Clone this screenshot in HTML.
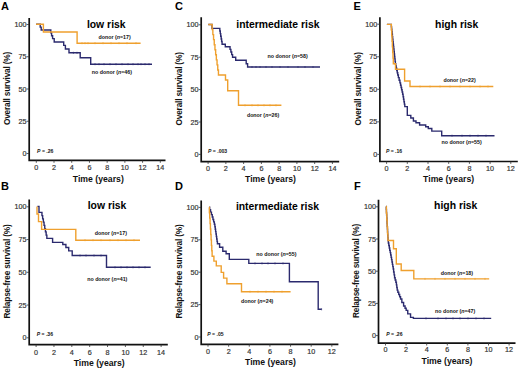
<!DOCTYPE html>
<html><head><meta charset="utf-8"><style>
html,body{margin:0;padding:0;background:#fff;width:520px;height:370px;overflow:hidden;}
svg{display:block;font-family:"Liberation Sans",sans-serif;}
</style></head><body>
<svg width="520" height="370" viewBox="0 0 520 370" font-family="Liberation Sans, sans-serif">
<rect width="520" height="370" fill="#fff"/>
<path d="M29.2 18V160.4H165.5" fill="none" stroke="#111" stroke-width="1.7"/>
<line x1="26.6" y1="153.5" x2="29.2" y2="153.5" stroke="#333" stroke-width="0.8"/>
<text x="26.6" y="156" text-anchor="end" font-size="7.2" fill="#333" stroke="#333" stroke-width="0.18">0</text>
<line x1="26.6" y1="121.25" x2="29.2" y2="121.25" stroke="#333" stroke-width="0.8"/>
<text x="26.6" y="123.75" text-anchor="end" font-size="7.2" fill="#333" stroke="#333" stroke-width="0.18">25</text>
<line x1="26.6" y1="89" x2="29.2" y2="89" stroke="#333" stroke-width="0.8"/>
<text x="26.6" y="91.5" text-anchor="end" font-size="7.2" fill="#333" stroke="#333" stroke-width="0.18">50</text>
<line x1="26.6" y1="56.75" x2="29.2" y2="56.75" stroke="#333" stroke-width="0.8"/>
<text x="26.6" y="59.25" text-anchor="end" font-size="7.2" fill="#333" stroke="#333" stroke-width="0.18">75</text>
<line x1="26.6" y1="24.5" x2="29.2" y2="24.5" stroke="#333" stroke-width="0.8"/>
<text x="26.6" y="27" text-anchor="end" font-size="7.2" fill="#333" stroke="#333" stroke-width="0.18">100</text>
<line x1="36.3" y1="160.4" x2="36.3" y2="162.8" stroke="#333" stroke-width="0.8"/>
<text x="36.3" y="170.3" text-anchor="middle" font-size="7.2" fill="#333" stroke="#333" stroke-width="0.18">0</text>
<line x1="54.01" y1="160.4" x2="54.01" y2="162.8" stroke="#333" stroke-width="0.8"/>
<text x="54.01" y="170.3" text-anchor="middle" font-size="7.2" fill="#333" stroke="#333" stroke-width="0.18">2</text>
<line x1="71.73" y1="160.4" x2="71.73" y2="162.8" stroke="#333" stroke-width="0.8"/>
<text x="71.73" y="170.3" text-anchor="middle" font-size="7.2" fill="#333" stroke="#333" stroke-width="0.18">4</text>
<line x1="89.44" y1="160.4" x2="89.44" y2="162.8" stroke="#333" stroke-width="0.8"/>
<text x="89.44" y="170.3" text-anchor="middle" font-size="7.2" fill="#333" stroke="#333" stroke-width="0.18">6</text>
<line x1="107.16" y1="160.4" x2="107.16" y2="162.8" stroke="#333" stroke-width="0.8"/>
<text x="107.16" y="170.3" text-anchor="middle" font-size="7.2" fill="#333" stroke="#333" stroke-width="0.18">8</text>
<line x1="124.87" y1="160.4" x2="124.87" y2="162.8" stroke="#333" stroke-width="0.8"/>
<text x="124.87" y="170.3" text-anchor="middle" font-size="7.2" fill="#333" stroke="#333" stroke-width="0.18">10</text>
<line x1="142.58" y1="160.4" x2="142.58" y2="162.8" stroke="#333" stroke-width="0.8"/>
<text x="142.58" y="170.3" text-anchor="middle" font-size="7.2" fill="#333" stroke="#333" stroke-width="0.18">12</text>
<line x1="160.3" y1="160.4" x2="160.3" y2="162.8" stroke="#333" stroke-width="0.8"/>
<text x="160.3" y="170.3" text-anchor="middle" font-size="7.2" fill="#333" stroke="#333" stroke-width="0.18">14</text>
<text x="1" y="9.9" font-size="11" font-weight="bold" fill="#000">A</text>
<text x="86.9" y="27.8" font-size="10.4" font-weight="bold" fill="#000">low risk</text>
<text x="98.3" y="181.8" text-anchor="middle" font-size="8.7" font-weight="bold" fill="#111">Time (years)</text>
<text transform="translate(9.6 88.5) rotate(-90)" text-anchor="middle" font-size="8.3" letter-spacing="-0.19" font-weight="bold" fill="#111">Overall survival (%)</text>
<text x="37.1" y="153" font-size="5.1" font-weight="bold" fill="#111"><tspan font-style="italic">P</tspan> = .26</text>
<path d="M36.1 24.3H40.2V27.1H41.2V30H50.8V32.9H51.6V35.7H52.6V38.6H54.2V42H63.7V45.4H65.4V49H69V52.8H80.2V57.8H90.7V64.2H152" fill="none" stroke="#2B2A6E" stroke-width="1.4" stroke-linejoin="miter"/>
<line x1="73.4" y1="51.8" x2="73.4" y2="53.8" stroke="#2B2A6E" stroke-width="0.7"/>
<line x1="77" y1="51.8" x2="77" y2="53.8" stroke="#2B2A6E" stroke-width="0.7"/>
<line x1="95" y1="63.2" x2="95" y2="65.2" stroke="#2B2A6E" stroke-width="0.7"/>
<line x1="99" y1="63.2" x2="99" y2="65.2" stroke="#2B2A6E" stroke-width="0.7"/>
<line x1="104" y1="63.2" x2="104" y2="65.2" stroke="#2B2A6E" stroke-width="0.7"/>
<line x1="110" y1="63.2" x2="110" y2="65.2" stroke="#2B2A6E" stroke-width="0.7"/>
<line x1="116" y1="63.2" x2="116" y2="65.2" stroke="#2B2A6E" stroke-width="0.7"/>
<line x1="122" y1="63.2" x2="122" y2="65.2" stroke="#2B2A6E" stroke-width="0.7"/>
<line x1="128" y1="63.2" x2="128" y2="65.2" stroke="#2B2A6E" stroke-width="0.7"/>
<line x1="133" y1="63.2" x2="133" y2="65.2" stroke="#2B2A6E" stroke-width="0.7"/>
<line x1="138" y1="63.2" x2="138" y2="65.2" stroke="#2B2A6E" stroke-width="0.7"/>
<line x1="141" y1="63.2" x2="141" y2="65.2" stroke="#2B2A6E" stroke-width="0.7"/>
<line x1="145" y1="63.2" x2="145" y2="65.2" stroke="#2B2A6E" stroke-width="0.7"/>
<line x1="149" y1="63.2" x2="149" y2="65.2" stroke="#2B2A6E" stroke-width="0.7"/>
<path d="M36.1 24.3H43.4V32H77.1V43.2H140.6" fill="none" stroke="#EFA02E" stroke-width="1.4" stroke-linejoin="miter"/>
<line x1="82" y1="42.2" x2="82" y2="44.2" stroke="#EFA02E" stroke-width="0.7"/>
<line x1="85" y1="42.2" x2="85" y2="44.2" stroke="#EFA02E" stroke-width="0.7"/>
<line x1="88" y1="42.2" x2="88" y2="44.2" stroke="#EFA02E" stroke-width="0.7"/>
<line x1="95" y1="42.2" x2="95" y2="44.2" stroke="#EFA02E" stroke-width="0.7"/>
<line x1="103" y1="42.2" x2="103" y2="44.2" stroke="#EFA02E" stroke-width="0.7"/>
<line x1="111" y1="42.2" x2="111" y2="44.2" stroke="#EFA02E" stroke-width="0.7"/>
<line x1="119" y1="42.2" x2="119" y2="44.2" stroke="#EFA02E" stroke-width="0.7"/>
<line x1="127" y1="42.2" x2="127" y2="44.2" stroke="#EFA02E" stroke-width="0.7"/>
<line x1="136" y1="42.2" x2="136" y2="44.2" stroke="#EFA02E" stroke-width="0.7"/>
<text x="98.5" y="38.8" font-size="5.3" font-weight="bold" fill="#111">donor (<tspan font-style="italic">n</tspan>=17)</text>
<text x="91.8" y="74.4" font-size="5.3" font-weight="bold" fill="#111">no donor (<tspan font-style="italic">n</tspan>=46)</text>
<path d="M201.2 17.3V161.6H339.2" fill="none" stroke="#111" stroke-width="1.7"/>
<line x1="198.6" y1="154.4" x2="201.2" y2="154.4" stroke="#333" stroke-width="0.8"/>
<text x="198.6" y="156.9" text-anchor="end" font-size="7.2" fill="#333" stroke="#333" stroke-width="0.18">0</text>
<line x1="198.6" y1="122" x2="201.2" y2="122" stroke="#333" stroke-width="0.8"/>
<text x="198.6" y="124.5" text-anchor="end" font-size="7.2" fill="#333" stroke="#333" stroke-width="0.18">25</text>
<line x1="198.6" y1="89.6" x2="201.2" y2="89.6" stroke="#333" stroke-width="0.8"/>
<text x="198.6" y="92.1" text-anchor="end" font-size="7.2" fill="#333" stroke="#333" stroke-width="0.18">50</text>
<line x1="198.6" y1="57.2" x2="201.2" y2="57.2" stroke="#333" stroke-width="0.8"/>
<text x="198.6" y="59.7" text-anchor="end" font-size="7.2" fill="#333" stroke="#333" stroke-width="0.18">75</text>
<line x1="198.6" y1="24.8" x2="201.2" y2="24.8" stroke="#333" stroke-width="0.8"/>
<text x="198.6" y="27.3" text-anchor="end" font-size="7.2" fill="#333" stroke="#333" stroke-width="0.18">100</text>
<line x1="208.1" y1="161.6" x2="208.1" y2="164" stroke="#333" stroke-width="0.8"/>
<text x="208.1" y="170.6" text-anchor="middle" font-size="7.2" fill="#333" stroke="#333" stroke-width="0.18">0</text>
<line x1="225.86" y1="161.6" x2="225.86" y2="164" stroke="#333" stroke-width="0.8"/>
<text x="225.86" y="170.6" text-anchor="middle" font-size="7.2" fill="#333" stroke="#333" stroke-width="0.18">2</text>
<line x1="243.62" y1="161.6" x2="243.62" y2="164" stroke="#333" stroke-width="0.8"/>
<text x="243.62" y="170.6" text-anchor="middle" font-size="7.2" fill="#333" stroke="#333" stroke-width="0.18">4</text>
<line x1="261.38" y1="161.6" x2="261.38" y2="164" stroke="#333" stroke-width="0.8"/>
<text x="261.38" y="170.6" text-anchor="middle" font-size="7.2" fill="#333" stroke="#333" stroke-width="0.18">6</text>
<line x1="279.14" y1="161.6" x2="279.14" y2="164" stroke="#333" stroke-width="0.8"/>
<text x="279.14" y="170.6" text-anchor="middle" font-size="7.2" fill="#333" stroke="#333" stroke-width="0.18">8</text>
<line x1="296.9" y1="161.6" x2="296.9" y2="164" stroke="#333" stroke-width="0.8"/>
<text x="296.9" y="170.6" text-anchor="middle" font-size="7.2" fill="#333" stroke="#333" stroke-width="0.18">10</text>
<line x1="314.66" y1="161.6" x2="314.66" y2="164" stroke="#333" stroke-width="0.8"/>
<text x="314.66" y="170.6" text-anchor="middle" font-size="7.2" fill="#333" stroke="#333" stroke-width="0.18">12</text>
<line x1="332.42" y1="161.6" x2="332.42" y2="164" stroke="#333" stroke-width="0.8"/>
<text x="332.42" y="170.6" text-anchor="middle" font-size="7.2" fill="#333" stroke="#333" stroke-width="0.18">14</text>
<text x="175" y="9.8" font-size="11" font-weight="bold" fill="#000">C</text>
<text x="236.3" y="27.8" font-size="10.4" font-weight="bold" fill="#000">intermediate risk</text>
<text x="270.5" y="182.3" text-anchor="middle" font-size="8.7" font-weight="bold" fill="#111">Time (years)</text>
<text transform="translate(181.9 88.9) rotate(-90)" text-anchor="middle" font-size="8.3" letter-spacing="-0.19" font-weight="bold" fill="#111">Overall survival (%)</text>
<text x="208" y="152.6" font-size="5.1" font-weight="bold" fill="#111"><tspan font-style="italic">P</tspan> = .003</text>
<path d="M208.3 24.5H212V28.4H219.6H219.82V31.03H220.28V33.67H220.72V36.3H221.18V38.93H221.62V41.57H222.08V44.2H222.3H225.3V46.8H229.6H230.03V49.4H230.88V52H231.72V54.6H232.57V57.2H233H235.7V60.2H246.2V63.8H247.6V67H320" fill="none" stroke="#2B2A6E" stroke-width="1.4" stroke-linejoin="miter"/>
<line x1="252" y1="66" x2="252" y2="68" stroke="#2B2A6E" stroke-width="0.7"/>
<line x1="256" y1="66" x2="256" y2="68" stroke="#2B2A6E" stroke-width="0.7"/>
<line x1="260" y1="66" x2="260" y2="68" stroke="#2B2A6E" stroke-width="0.7"/>
<line x1="266" y1="66" x2="266" y2="68" stroke="#2B2A6E" stroke-width="0.7"/>
<line x1="272" y1="66" x2="272" y2="68" stroke="#2B2A6E" stroke-width="0.7"/>
<line x1="280" y1="66" x2="280" y2="68" stroke="#2B2A6E" stroke-width="0.7"/>
<line x1="288" y1="66" x2="288" y2="68" stroke="#2B2A6E" stroke-width="0.7"/>
<line x1="298" y1="66" x2="298" y2="68" stroke="#2B2A6E" stroke-width="0.7"/>
<line x1="305" y1="66" x2="305" y2="68" stroke="#2B2A6E" stroke-width="0.7"/>
<line x1="313" y1="66" x2="313" y2="68" stroke="#2B2A6E" stroke-width="0.7"/>
<path d="M208.3 24.5H211.8H212.15V29.55H212.85V34.6H213.55V39.65H214.25V44.7H214.95V49.75H215.65V54.8H216.35V59.85H217.05V64.9H217.75V69.95H218.45V75H218.8H225.5V80H227.7V90.7H238.5V105.3H281.4" fill="none" stroke="#EFA02E" stroke-width="1.4" stroke-linejoin="miter"/>
<line x1="245" y1="104.3" x2="245" y2="106.3" stroke="#EFA02E" stroke-width="0.7"/>
<line x1="252" y1="104.3" x2="252" y2="106.3" stroke="#EFA02E" stroke-width="0.7"/>
<line x1="258" y1="104.3" x2="258" y2="106.3" stroke="#EFA02E" stroke-width="0.7"/>
<line x1="264" y1="104.3" x2="264" y2="106.3" stroke="#EFA02E" stroke-width="0.7"/>
<line x1="270" y1="104.3" x2="270" y2="106.3" stroke="#EFA02E" stroke-width="0.7"/>
<line x1="276" y1="104.3" x2="276" y2="106.3" stroke="#EFA02E" stroke-width="0.7"/>
<text x="267.6" y="58.1" font-size="5.3" font-weight="bold" fill="#111">no donor (<tspan font-style="italic">n</tspan>=58)</text>
<text x="246.9" y="117.2" font-size="5.3" font-weight="bold" fill="#111">donor (<tspan font-style="italic">n</tspan>=26)</text>
<path d="M379.9 17.3V161.5H517.8" fill="none" stroke="#111" stroke-width="1.7"/>
<line x1="377.3" y1="154.4" x2="379.9" y2="154.4" stroke="#333" stroke-width="0.8"/>
<text x="377.3" y="156.9" text-anchor="end" font-size="7.2" fill="#333" stroke="#333" stroke-width="0.18">0</text>
<line x1="377.3" y1="121.85" x2="379.9" y2="121.85" stroke="#333" stroke-width="0.8"/>
<text x="377.3" y="124.35" text-anchor="end" font-size="7.2" fill="#333" stroke="#333" stroke-width="0.18">25</text>
<line x1="377.3" y1="89.3" x2="379.9" y2="89.3" stroke="#333" stroke-width="0.8"/>
<text x="377.3" y="91.8" text-anchor="end" font-size="7.2" fill="#333" stroke="#333" stroke-width="0.18">50</text>
<line x1="377.3" y1="56.75" x2="379.9" y2="56.75" stroke="#333" stroke-width="0.8"/>
<text x="377.3" y="59.25" text-anchor="end" font-size="7.2" fill="#333" stroke="#333" stroke-width="0.18">75</text>
<line x1="377.3" y1="24.2" x2="379.9" y2="24.2" stroke="#333" stroke-width="0.8"/>
<text x="377.3" y="26.7" text-anchor="end" font-size="7.2" fill="#333" stroke="#333" stroke-width="0.18">100</text>
<line x1="386.6" y1="161.5" x2="386.6" y2="163.9" stroke="#333" stroke-width="0.8"/>
<text x="386.6" y="171.4" text-anchor="middle" font-size="7.2" fill="#333" stroke="#333" stroke-width="0.18">0</text>
<line x1="407.3" y1="161.5" x2="407.3" y2="163.9" stroke="#333" stroke-width="0.8"/>
<text x="407.3" y="171.4" text-anchor="middle" font-size="7.2" fill="#333" stroke="#333" stroke-width="0.18">2</text>
<line x1="428" y1="161.5" x2="428" y2="163.9" stroke="#333" stroke-width="0.8"/>
<text x="428" y="171.4" text-anchor="middle" font-size="7.2" fill="#333" stroke="#333" stroke-width="0.18">4</text>
<line x1="448.7" y1="161.5" x2="448.7" y2="163.9" stroke="#333" stroke-width="0.8"/>
<text x="448.7" y="171.4" text-anchor="middle" font-size="7.2" fill="#333" stroke="#333" stroke-width="0.18">6</text>
<line x1="469.4" y1="161.5" x2="469.4" y2="163.9" stroke="#333" stroke-width="0.8"/>
<text x="469.4" y="171.4" text-anchor="middle" font-size="7.2" fill="#333" stroke="#333" stroke-width="0.18">8</text>
<line x1="490.1" y1="161.5" x2="490.1" y2="163.9" stroke="#333" stroke-width="0.8"/>
<text x="490.1" y="171.4" text-anchor="middle" font-size="7.2" fill="#333" stroke="#333" stroke-width="0.18">10</text>
<line x1="510.8" y1="161.5" x2="510.8" y2="163.9" stroke="#333" stroke-width="0.8"/>
<text x="510.8" y="171.4" text-anchor="middle" font-size="7.2" fill="#333" stroke="#333" stroke-width="0.18">12</text>
<text x="353.4" y="9.7" font-size="11" font-weight="bold" fill="#000">E</text>
<text x="435.1" y="27.7" font-size="10.4" font-weight="bold" fill="#000">high risk</text>
<text x="448.6" y="182" text-anchor="middle" font-size="8.7" font-weight="bold" fill="#111">Time (years)</text>
<text transform="translate(360.7 88.9) rotate(-90)" text-anchor="middle" font-size="8.3" letter-spacing="-0.19" font-weight="bold" fill="#111">Overall survival (%)</text>
<text x="385.9" y="152.6" font-size="5.1" font-weight="bold" fill="#111"><tspan font-style="italic">P</tspan> = .16</text>
<path d="M386.9 24.4H391.2H391.33V26.86H391.6V29.32H391.87V31.79H392.14V34.25H392.41V36.71H392.68V39.17H392.95V41.64H393.22V44.1H393.48V46.56H393.75V49.02H394.02V51.49H394.29V53.95H394.56V56.41H394.83V58.88H395.1V61.34H395.37V63.8H395.5H395.75V66.04H396.25V68.28H396.75V70.52H397.25V72.76H397.75V75H398H398.38V77.63H399.15V80.27H399.92V82.9H400.3H400.56V85.18H401.08V87.46H401.6V89.74H402.12V92.02H402.64V94.3H402.9H403.11V96.76H403.53V99.22H403.95V101.68H404.37V104.14H404.79V106.6H405H407.3V115.4H410.8V118H413.4V121H416V122.7H419.6V125H425.7V126.8H428.3V128.5H431.8V131.1H441.7V135.7H494.5" fill="none" stroke="#2B2A6E" stroke-width="1.4" stroke-linejoin="miter"/>
<line x1="452" y1="134.7" x2="452" y2="136.7" stroke="#2B2A6E" stroke-width="0.7"/>
<line x1="462" y1="134.7" x2="462" y2="136.7" stroke="#2B2A6E" stroke-width="0.7"/>
<line x1="470" y1="134.7" x2="470" y2="136.7" stroke="#2B2A6E" stroke-width="0.7"/>
<line x1="478" y1="134.7" x2="478" y2="136.7" stroke="#2B2A6E" stroke-width="0.7"/>
<line x1="486" y1="134.7" x2="486" y2="136.7" stroke="#2B2A6E" stroke-width="0.7"/>
<path d="M386.9 24.4H391.2H391.36V30.03H391.69V35.66H392.02V41.29H392.35V46.91H392.68V52.54H393.01V58.17H393.34V63.8H393.5H395.5V69.2H404.6V81H410V86.5H493.3" fill="none" stroke="#EFA02E" stroke-width="1.4" stroke-linejoin="miter"/>
<line x1="420" y1="85.5" x2="420" y2="87.5" stroke="#EFA02E" stroke-width="0.7"/>
<line x1="430" y1="85.5" x2="430" y2="87.5" stroke="#EFA02E" stroke-width="0.7"/>
<line x1="440" y1="85.5" x2="440" y2="87.5" stroke="#EFA02E" stroke-width="0.7"/>
<line x1="450" y1="85.5" x2="450" y2="87.5" stroke="#EFA02E" stroke-width="0.7"/>
<line x1="460" y1="85.5" x2="460" y2="87.5" stroke="#EFA02E" stroke-width="0.7"/>
<line x1="470" y1="85.5" x2="470" y2="87.5" stroke="#EFA02E" stroke-width="0.7"/>
<line x1="480" y1="85.5" x2="480" y2="87.5" stroke="#EFA02E" stroke-width="0.7"/>
<line x1="488" y1="85.5" x2="488" y2="87.5" stroke="#EFA02E" stroke-width="0.7"/>
<text x="443.4" y="81.7" font-size="5.3" font-weight="bold" fill="#111">donor (<tspan font-style="italic">n</tspan>=22)</text>
<text x="441.6" y="144.1" font-size="5.3" font-weight="bold" fill="#111">no donor (<tspan font-style="italic">n</tspan>=55)</text>
<path d="M29.2 199.4V344.6H167.8" fill="none" stroke="#111" stroke-width="1.7"/>
<line x1="26.6" y1="337.8" x2="29.2" y2="337.8" stroke="#333" stroke-width="0.8"/>
<text x="26.6" y="340.3" text-anchor="end" font-size="7.2" fill="#333" stroke="#333" stroke-width="0.18">0</text>
<line x1="26.6" y1="305.05" x2="29.2" y2="305.05" stroke="#333" stroke-width="0.8"/>
<text x="26.6" y="307.55" text-anchor="end" font-size="7.2" fill="#333" stroke="#333" stroke-width="0.18">25</text>
<line x1="26.6" y1="272.3" x2="29.2" y2="272.3" stroke="#333" stroke-width="0.8"/>
<text x="26.6" y="274.8" text-anchor="end" font-size="7.2" fill="#333" stroke="#333" stroke-width="0.18">50</text>
<line x1="26.6" y1="239.55" x2="29.2" y2="239.55" stroke="#333" stroke-width="0.8"/>
<text x="26.6" y="242.05" text-anchor="end" font-size="7.2" fill="#333" stroke="#333" stroke-width="0.18">75</text>
<line x1="26.6" y1="206.8" x2="29.2" y2="206.8" stroke="#333" stroke-width="0.8"/>
<text x="26.6" y="209.3" text-anchor="end" font-size="7.2" fill="#333" stroke="#333" stroke-width="0.18">100</text>
<line x1="36.1" y1="344.6" x2="36.1" y2="347" stroke="#333" stroke-width="0.8"/>
<text x="36.1" y="354.5" text-anchor="middle" font-size="7.2" fill="#333" stroke="#333" stroke-width="0.18">0</text>
<line x1="53.96" y1="344.6" x2="53.96" y2="347" stroke="#333" stroke-width="0.8"/>
<text x="53.96" y="354.5" text-anchor="middle" font-size="7.2" fill="#333" stroke="#333" stroke-width="0.18">2</text>
<line x1="71.82" y1="344.6" x2="71.82" y2="347" stroke="#333" stroke-width="0.8"/>
<text x="71.82" y="354.5" text-anchor="middle" font-size="7.2" fill="#333" stroke="#333" stroke-width="0.18">4</text>
<line x1="89.68" y1="344.6" x2="89.68" y2="347" stroke="#333" stroke-width="0.8"/>
<text x="89.68" y="354.5" text-anchor="middle" font-size="7.2" fill="#333" stroke="#333" stroke-width="0.18">6</text>
<line x1="107.54" y1="344.6" x2="107.54" y2="347" stroke="#333" stroke-width="0.8"/>
<text x="107.54" y="354.5" text-anchor="middle" font-size="7.2" fill="#333" stroke="#333" stroke-width="0.18">8</text>
<line x1="125.4" y1="344.6" x2="125.4" y2="347" stroke="#333" stroke-width="0.8"/>
<text x="125.4" y="354.5" text-anchor="middle" font-size="7.2" fill="#333" stroke="#333" stroke-width="0.18">10</text>
<line x1="143.26" y1="344.6" x2="143.26" y2="347" stroke="#333" stroke-width="0.8"/>
<text x="143.26" y="354.5" text-anchor="middle" font-size="7.2" fill="#333" stroke="#333" stroke-width="0.18">12</text>
<line x1="161.12" y1="344.6" x2="161.12" y2="347" stroke="#333" stroke-width="0.8"/>
<text x="161.12" y="354.5" text-anchor="middle" font-size="7.2" fill="#333" stroke="#333" stroke-width="0.18">14</text>
<text x="1" y="189.9" font-size="11" font-weight="bold" fill="#000">B</text>
<text x="87.7" y="209.3" font-size="10.4" font-weight="bold" fill="#000">low risk</text>
<text x="99.2" y="366.2" text-anchor="middle" font-size="8.7" font-weight="bold" fill="#111">Time (years)</text>
<text transform="translate(10.3 271.5) rotate(-90)" text-anchor="middle" font-size="8.3" letter-spacing="-0.19" font-weight="bold" fill="#111">Relapse-free survival (%)</text>
<text x="36.7" y="335.6" font-size="5.1" font-weight="bold" fill="#111"><tspan font-style="italic">P</tspan> = .36</text>
<path d="M37.4 206.4H39V212.4H41.6H41.95V215.65H42.65V218.9H43.35V222.15H44.05V225.4H44.75V228.65H45.45V231.9H46.15V235.15H46.85V238.4H47.2H52.6V242.4H62.8V244.5H65.9V247.5H68.7V250.9H72.2V255.5H106.5V267.3H150.7" fill="none" stroke="#2B2A6E" stroke-width="1.4" stroke-linejoin="miter"/>
<line x1="80" y1="254.5" x2="80" y2="256.5" stroke="#2B2A6E" stroke-width="0.7"/>
<line x1="86" y1="254.5" x2="86" y2="256.5" stroke="#2B2A6E" stroke-width="0.7"/>
<line x1="94" y1="254.5" x2="94" y2="256.5" stroke="#2B2A6E" stroke-width="0.7"/>
<line x1="101" y1="254.5" x2="101" y2="256.5" stroke="#2B2A6E" stroke-width="0.7"/>
<line x1="115" y1="266.3" x2="115" y2="268.3" stroke="#2B2A6E" stroke-width="0.7"/>
<line x1="121" y1="266.3" x2="121" y2="268.3" stroke="#2B2A6E" stroke-width="0.7"/>
<line x1="127" y1="266.3" x2="127" y2="268.3" stroke="#2B2A6E" stroke-width="0.7"/>
<line x1="133" y1="266.3" x2="133" y2="268.3" stroke="#2B2A6E" stroke-width="0.7"/>
<line x1="139" y1="266.3" x2="139" y2="268.3" stroke="#2B2A6E" stroke-width="0.7"/>
<line x1="145" y1="266.3" x2="145" y2="268.3" stroke="#2B2A6E" stroke-width="0.7"/>
<path d="M37 206.4V214H38.5V221.6H41.6V229.4H75.8V240.2H140" fill="none" stroke="#EFA02E" stroke-width="1.4" stroke-linejoin="miter"/>
<line x1="85" y1="239.2" x2="85" y2="241.2" stroke="#EFA02E" stroke-width="0.7"/>
<line x1="93" y1="239.2" x2="93" y2="241.2" stroke="#EFA02E" stroke-width="0.7"/>
<line x1="101" y1="239.2" x2="101" y2="241.2" stroke="#EFA02E" stroke-width="0.7"/>
<line x1="110" y1="239.2" x2="110" y2="241.2" stroke="#EFA02E" stroke-width="0.7"/>
<line x1="118" y1="239.2" x2="118" y2="241.2" stroke="#EFA02E" stroke-width="0.7"/>
<line x1="126" y1="239.2" x2="126" y2="241.2" stroke="#EFA02E" stroke-width="0.7"/>
<line x1="134" y1="239.2" x2="134" y2="241.2" stroke="#EFA02E" stroke-width="0.7"/>
<text x="94.7" y="235.1" font-size="5.3" font-weight="bold" fill="#111">donor (<tspan font-style="italic">n</tspan>=17)</text>
<text x="87.2" y="280.7" font-size="5.3" font-weight="bold" fill="#111">no donor (<tspan font-style="italic">n</tspan>=41)</text>
<path d="M201.2 200.4V344.3H338.4" fill="none" stroke="#111" stroke-width="1.7"/>
<line x1="198.6" y1="337" x2="201.2" y2="337" stroke="#333" stroke-width="0.8"/>
<text x="198.6" y="339.5" text-anchor="end" font-size="7.2" fill="#333" stroke="#333" stroke-width="0.18">0</text>
<line x1="198.6" y1="304.6" x2="201.2" y2="304.6" stroke="#333" stroke-width="0.8"/>
<text x="198.6" y="307.1" text-anchor="end" font-size="7.2" fill="#333" stroke="#333" stroke-width="0.18">25</text>
<line x1="198.6" y1="272.2" x2="201.2" y2="272.2" stroke="#333" stroke-width="0.8"/>
<text x="198.6" y="274.7" text-anchor="end" font-size="7.2" fill="#333" stroke="#333" stroke-width="0.18">50</text>
<line x1="198.6" y1="239.8" x2="201.2" y2="239.8" stroke="#333" stroke-width="0.8"/>
<text x="198.6" y="242.3" text-anchor="end" font-size="7.2" fill="#333" stroke="#333" stroke-width="0.18">75</text>
<line x1="198.6" y1="207.4" x2="201.2" y2="207.4" stroke="#333" stroke-width="0.8"/>
<text x="198.6" y="209.9" text-anchor="end" font-size="7.2" fill="#333" stroke="#333" stroke-width="0.18">100</text>
<line x1="208" y1="344.3" x2="208" y2="346.7" stroke="#333" stroke-width="0.8"/>
<text x="208" y="354.2" text-anchor="middle" font-size="7.2" fill="#333" stroke="#333" stroke-width="0.18">0</text>
<line x1="228.64" y1="344.3" x2="228.64" y2="346.7" stroke="#333" stroke-width="0.8"/>
<text x="228.64" y="354.2" text-anchor="middle" font-size="7.2" fill="#333" stroke="#333" stroke-width="0.18">2</text>
<line x1="249.28" y1="344.3" x2="249.28" y2="346.7" stroke="#333" stroke-width="0.8"/>
<text x="249.28" y="354.2" text-anchor="middle" font-size="7.2" fill="#333" stroke="#333" stroke-width="0.18">4</text>
<line x1="269.92" y1="344.3" x2="269.92" y2="346.7" stroke="#333" stroke-width="0.8"/>
<text x="269.92" y="354.2" text-anchor="middle" font-size="7.2" fill="#333" stroke="#333" stroke-width="0.18">6</text>
<line x1="290.56" y1="344.3" x2="290.56" y2="346.7" stroke="#333" stroke-width="0.8"/>
<text x="290.56" y="354.2" text-anchor="middle" font-size="7.2" fill="#333" stroke="#333" stroke-width="0.18">8</text>
<line x1="311.2" y1="344.3" x2="311.2" y2="346.7" stroke="#333" stroke-width="0.8"/>
<text x="311.2" y="354.2" text-anchor="middle" font-size="7.2" fill="#333" stroke="#333" stroke-width="0.18">10</text>
<line x1="331.84" y1="344.3" x2="331.84" y2="346.7" stroke="#333" stroke-width="0.8"/>
<text x="331.84" y="354.2" text-anchor="middle" font-size="7.2" fill="#333" stroke="#333" stroke-width="0.18">12</text>
<text x="175" y="189.9" font-size="11" font-weight="bold" fill="#000">D</text>
<text x="235.9" y="210.2" font-size="10.4" font-weight="bold" fill="#000">intermediate risk</text>
<text x="270.5" y="365" text-anchor="middle" font-size="8.7" font-weight="bold" fill="#111">Time (years)</text>
<text transform="translate(181.9 271.5) rotate(-90)" text-anchor="middle" font-size="8.3" letter-spacing="-0.19" font-weight="bold" fill="#111">Relapse-free survival (%)</text>
<text x="207.3" y="336.2" font-size="5.1" font-weight="bold" fill="#111"><tspan font-style="italic">P</tspan> = .05</text>
<path d="M209.2 207.3H209.65V209.73H210.55V212.17H211.45V214.6H211.9H212.25V217.03H212.95V219.45H213.65V221.88H214.35V224.3H214.7H214.88V226.74H215.24V229.18H215.61V231.61H215.97V234.05H216.33V236.49H216.69V238.93H217.06V241.36H217.42V243.8H217.6H219.6V247.3H222.8V251.3H226.1V253.8H229.3V259.4H248.8V263.4H289.4V281.7H318.2V309.3H321.6" fill="none" stroke="#2B2A6E" stroke-width="1.4" stroke-linejoin="miter"/>
<line x1="255" y1="262.4" x2="255" y2="264.4" stroke="#2B2A6E" stroke-width="0.7"/>
<line x1="262" y1="262.4" x2="262" y2="264.4" stroke="#2B2A6E" stroke-width="0.7"/>
<line x1="268" y1="262.4" x2="268" y2="264.4" stroke="#2B2A6E" stroke-width="0.7"/>
<line x1="275" y1="262.4" x2="275" y2="264.4" stroke="#2B2A6E" stroke-width="0.7"/>
<line x1="283" y1="262.4" x2="283" y2="264.4" stroke="#2B2A6E" stroke-width="0.7"/>
<line x1="321.6" y1="308.3" x2="321.6" y2="310.3" stroke="#2B2A6E" stroke-width="0.7"/>
<path d="M209.2 207.3H209.37V212.73H209.72V218.17H210.06V223.6H210.41V229.03H210.75V234.47H211.09V239.9H211.44V245.33H211.78V250.77H212.13V256.2H212.3H213.9V261.1H216.3V265.9H221.2V272.4H223.6V278.1H226.9V283.8H241.5V291.7H290.6" fill="none" stroke="#EFA02E" stroke-width="1.4" stroke-linejoin="miter"/>
<line x1="250" y1="290.7" x2="250" y2="292.7" stroke="#EFA02E" stroke-width="0.7"/>
<line x1="258" y1="290.7" x2="258" y2="292.7" stroke="#EFA02E" stroke-width="0.7"/>
<line x1="266" y1="290.7" x2="266" y2="292.7" stroke="#EFA02E" stroke-width="0.7"/>
<line x1="274" y1="290.7" x2="274" y2="292.7" stroke="#EFA02E" stroke-width="0.7"/>
<line x1="282" y1="290.7" x2="282" y2="292.7" stroke="#EFA02E" stroke-width="0.7"/>
<text x="256.3" y="256.1" font-size="5.3" font-weight="bold" fill="#111">no donor (<tspan font-style="italic">n</tspan>=55)</text>
<text x="241.1" y="303" font-size="5.3" font-weight="bold" fill="#111">donor (<tspan font-style="italic">n</tspan>=24)</text>
<path d="M378.5 199.7V343.1H515.5" fill="none" stroke="#111" stroke-width="1.7"/>
<line x1="375.9" y1="335.6" x2="378.5" y2="335.6" stroke="#333" stroke-width="0.8"/>
<text x="375.9" y="338.1" text-anchor="end" font-size="7.2" fill="#333" stroke="#333" stroke-width="0.18">0</text>
<line x1="375.9" y1="303.4" x2="378.5" y2="303.4" stroke="#333" stroke-width="0.8"/>
<text x="375.9" y="305.9" text-anchor="end" font-size="7.2" fill="#333" stroke="#333" stroke-width="0.18">25</text>
<line x1="375.9" y1="271.2" x2="378.5" y2="271.2" stroke="#333" stroke-width="0.8"/>
<text x="375.9" y="273.7" text-anchor="end" font-size="7.2" fill="#333" stroke="#333" stroke-width="0.18">50</text>
<line x1="375.9" y1="239" x2="378.5" y2="239" stroke="#333" stroke-width="0.8"/>
<text x="375.9" y="241.5" text-anchor="end" font-size="7.2" fill="#333" stroke="#333" stroke-width="0.18">75</text>
<line x1="375.9" y1="206.8" x2="378.5" y2="206.8" stroke="#333" stroke-width="0.8"/>
<text x="375.9" y="209.3" text-anchor="end" font-size="7.2" fill="#333" stroke="#333" stroke-width="0.18">100</text>
<line x1="385.5" y1="343.1" x2="385.5" y2="345.5" stroke="#333" stroke-width="0.8"/>
<text x="385.5" y="352.2" text-anchor="middle" font-size="7.2" fill="#333" stroke="#333" stroke-width="0.18">0</text>
<line x1="406.1" y1="343.1" x2="406.1" y2="345.5" stroke="#333" stroke-width="0.8"/>
<text x="406.1" y="352.2" text-anchor="middle" font-size="7.2" fill="#333" stroke="#333" stroke-width="0.18">2</text>
<line x1="426.7" y1="343.1" x2="426.7" y2="345.5" stroke="#333" stroke-width="0.8"/>
<text x="426.7" y="352.2" text-anchor="middle" font-size="7.2" fill="#333" stroke="#333" stroke-width="0.18">4</text>
<line x1="447.3" y1="343.1" x2="447.3" y2="345.5" stroke="#333" stroke-width="0.8"/>
<text x="447.3" y="352.2" text-anchor="middle" font-size="7.2" fill="#333" stroke="#333" stroke-width="0.18">6</text>
<line x1="467.9" y1="343.1" x2="467.9" y2="345.5" stroke="#333" stroke-width="0.8"/>
<text x="467.9" y="352.2" text-anchor="middle" font-size="7.2" fill="#333" stroke="#333" stroke-width="0.18">8</text>
<line x1="488.5" y1="343.1" x2="488.5" y2="345.5" stroke="#333" stroke-width="0.8"/>
<text x="488.5" y="352.2" text-anchor="middle" font-size="7.2" fill="#333" stroke="#333" stroke-width="0.18">10</text>
<line x1="509.1" y1="343.1" x2="509.1" y2="345.5" stroke="#333" stroke-width="0.8"/>
<text x="509.1" y="352.2" text-anchor="middle" font-size="7.2" fill="#333" stroke="#333" stroke-width="0.18">12</text>
<text x="354" y="189.9" font-size="11" font-weight="bold" fill="#000">F</text>
<text x="434.1" y="209.4" font-size="10.4" font-weight="bold" fill="#000">high risk</text>
<text x="447" y="364" text-anchor="middle" font-size="8.7" font-weight="bold" fill="#111">Time (years)</text>
<text transform="translate(359.2 271) rotate(-90)" text-anchor="middle" font-size="8.3" letter-spacing="-0.19" font-weight="bold" fill="#111">Relapse-free survival (%)</text>
<text x="386.2" y="335.8" font-size="5.1" font-weight="bold" fill="#111"><tspan font-style="italic">P</tspan> = .26</text>
<path d="M386.2 206.5H386.28V209.33H386.44V212.17H386.6V215H386.75V217.83H386.91V220.67H387.07V223.5H387.23V226.33H387.39V229.17H387.55V232H387.7V234.83H387.86V237.67H388.02V240.5H388.1H388.33V243H388.8V245.5H389.27V248H389.5H389.73V250.33H390.2V252.67H390.67V255H390.9H391.12V257.33H391.55V259.67H391.98V262H392.2H392.4V264.33H392.8V266.67H393.2V269H393.4H393.63V271.93H394.1V274.87H394.57V277.8H394.8H395.15V280H395.85V282.2H396.2H396.4V284.83H396.8V287.47H397.2V290.1H397.4H397.85V292.3H398.75V294.5H399.2H399.65V296.75H400.55V299H401H401.85V302.5H402.7H403.6V306H404.5H405.05V308.2H406.15V310.4H406.7H407.75V313.9H408.8H410.55V317.4H412.3H413.4V318.4H414.5H491.2" fill="none" stroke="#2B2A6E" stroke-width="1.4" stroke-linejoin="miter"/>
<line x1="426" y1="317.4" x2="426" y2="319.4" stroke="#2B2A6E" stroke-width="0.7"/>
<line x1="438" y1="317.4" x2="438" y2="319.4" stroke="#2B2A6E" stroke-width="0.7"/>
<line x1="446" y1="317.4" x2="446" y2="319.4" stroke="#2B2A6E" stroke-width="0.7"/>
<line x1="453" y1="317.4" x2="453" y2="319.4" stroke="#2B2A6E" stroke-width="0.7"/>
<line x1="460" y1="317.4" x2="460" y2="319.4" stroke="#2B2A6E" stroke-width="0.7"/>
<line x1="468" y1="317.4" x2="468" y2="319.4" stroke="#2B2A6E" stroke-width="0.7"/>
<line x1="476" y1="317.4" x2="476" y2="319.4" stroke="#2B2A6E" stroke-width="0.7"/>
<line x1="484" y1="317.4" x2="484" y2="319.4" stroke="#2B2A6E" stroke-width="0.7"/>
<path d="M386.2 206.5H386.39V213.3H386.77V220.1H387.15V226.9H387.53V233.7H387.91V240.5H388.1H393.5V248.8H396.3V264H401.2V270.5H413.8V278.9H489.2" fill="none" stroke="#EFA02E" stroke-width="1.4" stroke-linejoin="miter"/>
<line x1="425" y1="277.9" x2="425" y2="279.9" stroke="#EFA02E" stroke-width="0.7"/>
<line x1="435" y1="277.9" x2="435" y2="279.9" stroke="#EFA02E" stroke-width="0.7"/>
<line x1="445" y1="277.9" x2="445" y2="279.9" stroke="#EFA02E" stroke-width="0.7"/>
<line x1="455" y1="277.9" x2="455" y2="279.9" stroke="#EFA02E" stroke-width="0.7"/>
<line x1="465" y1="277.9" x2="465" y2="279.9" stroke="#EFA02E" stroke-width="0.7"/>
<line x1="475" y1="277.9" x2="475" y2="279.9" stroke="#EFA02E" stroke-width="0.7"/>
<line x1="485" y1="277.9" x2="485" y2="279.9" stroke="#EFA02E" stroke-width="0.7"/>
<text x="440.8" y="275.3" font-size="5.3" font-weight="bold" fill="#111">donor (<tspan font-style="italic">n</tspan>=18)</text>
<text x="435" y="313.3" font-size="5.3" font-weight="bold" fill="#111">no donor (<tspan font-style="italic">n</tspan>=47)</text>
</svg></body></html>
